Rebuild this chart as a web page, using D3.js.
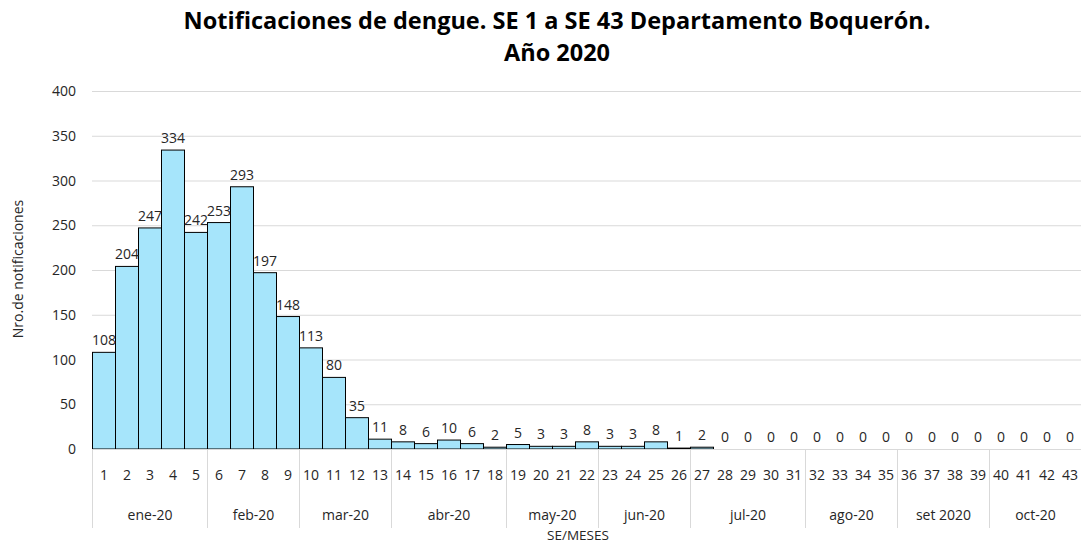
<!DOCTYPE html>
<html><head><meta charset="utf-8">
<script src="https://cdn.jsdelivr.net/npm/d3@7"></script>
<style>body{margin:0;background:#fff}svg{font-family:"Open Sans","Noto Sans",sans-serif}</style>
</head><body>
<script>
const weeks = d3.range(1, 44).map(String);
const values = [108,204,247,334,242,253,293,197,148,113,80,35,11,8,6,10,6,2,5,3,3,8,3,3,8,1,2,0,0,0,0,0,0,0,0,0,0,0,0,0,0,0,0];
const months = ["ene-20","feb-20","mar-20","abr-20","may-20","jun-20","jul-20","ago-20","set 2020","oct-20"];
const monthStart = [1,6,10,14,19,23,27,32,36,40];
const monthEnd = [5,9,13,18,22,26,31,35,39,43];
const yTicks = [0,50,100,150,200,250,300,350,400];

const W = 1081, H = 546;
const txt = "#262626";
const svg = d3.select("body").append("svg").attr("width", W).attr("height", H);
const x = d3.scaleBand().domain(weeks).range([92, 1081]).padding(0);
const y = d3.scaleLinear().domain([0, 400]).range([449, 91]);

svg.append("text").attr("x", 557).attr("y", 29).attr("text-anchor", "middle")
  .attr("font-size", 23.5).attr("font-weight", "bold").attr("fill", "#000")
  .text("Notificaciones de dengue. SE 1 a SE 43 Departamento Boquerón.");
svg.append("text").attr("x", 557).attr("y", 61).attr("text-anchor", "middle")
  .attr("font-size", 23.5).attr("font-weight", "bold").attr("fill", "#000").text("Año 2020");

// gridlines
svg.append("g").selectAll("line").data(yTicks).join("line")
  .attr("x1", 92).attr("x2", 1081).attr("y1", d => y(d) + 0.5).attr("y2", d => y(d) + 0.5)
  .attr("stroke", "#d9d9d9").attr("stroke-width", 1);
svg.append("g").selectAll("text").data(yTicks).join("text")
  .attr("x", 76).attr("y", d => y(d) + 5).attr("text-anchor", "end")
  .attr("font-size", 14).attr("fill", txt).text(d => d);

// bars
svg.append("g").selectAll("rect").data(values).join("rect")
  .attr("x", (d, i) => x(weeks[i]) + 0.5).attr("width", x.bandwidth())
  .attr("y", d => y(d)).attr("height", d => y(0) - y(d))
  .attr("fill", "#a6e5fb").attr("stroke", "#000").attr("stroke-width", 1);
svg.append("g").selectAll("text").data(values).join("text")
  .attr("x", (d, i) => x(weeks[i]) + x.bandwidth() / 2 + 0.5).attr("y", d => y(d) - 7)
  .attr("text-anchor", "middle").attr("font-size", 14).attr("fill", txt).text(d => d);

// x axis
svg.append("line").attr("x1", 92).attr("x2", 1081).attr("y1", y(0) + 0.5).attr("y2", y(0) + 0.5).attr("stroke", "#d9d9d9");
svg.append("g").selectAll("text").data(weeks).join("text")
  .attr("x", d => x(d) + x.bandwidth() / 2 + 0.5).attr("y", 480).attr("text-anchor", "middle")
  .attr("font-size", 14).attr("fill", txt).text(d => d);
const seps = monthStart;
svg.append("g").selectAll("line").data(seps).join("line")
  .attr("x1", d => x(String(d)) + 0.5).attr("x2", d => x(String(d)) + 0.5)
  .attr("y1", y(0)).attr("y2", 528).attr("stroke", "#d9d9d9");
svg.append("g").selectAll("text").data(months).join("text")
  .attr("x", (d, i) => (x(String(monthStart[i])) + x(String(monthEnd[i])) + x.bandwidth()) / 2 + 0.5)
  .attr("y", 520).attr("text-anchor", "middle").attr("font-size", 14).attr("fill", txt).text(d => d);

svg.append("text").attr("x", 578).attr("y", 540).attr("text-anchor", "middle")
  .attr("font-size", 13.5).attr("fill", txt).text("SE/MESES");
svg.append("text").attr("transform", "translate(23,269) rotate(-90)").attr("text-anchor", "middle")
  .attr("font-size", 14).attr("fill", txt).text("Nro.de notificaciones");
</script>
</body></html>
